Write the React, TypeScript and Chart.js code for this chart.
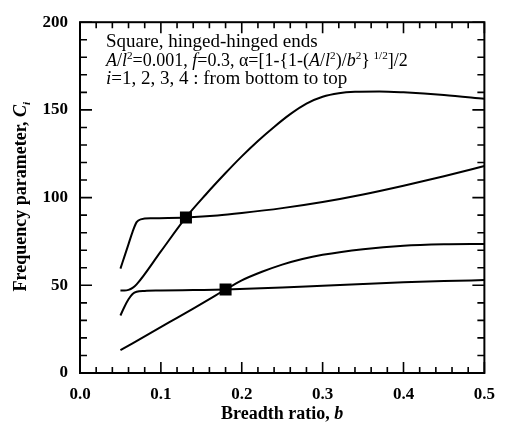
import React, { useEffect, useRef } from "react";
import { Chart, registerables } from "chart.js";

Chart.register(...registerables);

// ---- data ----
const curve1B = [0.05, 0.08, 0.11, 0.14, 0.16, 0.18, 0.2, 0.225, 0.25, 0.275, 0.3, 0.35, 0.4, 0.45, 0.5];
const curve1C = [13.0, 20.9, 28.8, 36.7, 42.1, 47.6, 52.8, 57.7, 61.8, 65.0, 67.4, 70.6, 72.6, 73.4, 73.6];

const curve2B = [0.05, 0.055, 0.06, 0.065, 0.07, 0.08, 0.1, 0.14, 0.18, 0.25, 0.3, 0.35, 0.4, 0.45, 0.5];
const curve2C = [32.8, 37.8, 42.0, 45.0, 46.3, 46.8, 47.0, 47.3, 47.6, 48.7, 49.8, 50.8, 51.7, 52.4, 53.0];

const curve3B = [0.05, 0.055, 0.06, 0.065, 0.07, 0.1, 0.131, 0.155, 0.18, 0.2, 0.22, 0.24, 0.26, 0.28, 0.3, 0.32, 0.34, 0.37, 0.4, 0.45, 0.5];
const curve3C = [47.0, 47.0, 47.4, 48.5, 50.5, 69.3, 88.7, 101.5, 114.0, 123.5, 132.3, 140.3, 147.6, 153.6, 157.5, 159.5, 160.3, 160.5, 160.0, 158.5, 156.3];

const curve4B = [0.05, 0.055, 0.06, 0.065, 0.07, 0.075, 0.09, 0.131, 0.17, 0.2, 0.25, 0.3, 0.35, 0.4, 0.45, 0.5];
const curve4C = [59.5, 66.5, 73.5, 80.5, 86.0, 87.6, 88.2, 88.7, 89.8, 91.2, 94.0, 97.5, 101.8, 106.8, 112.2, 118.0];

const crossingB = [0.131, 0.18];
const crossingC = [88.7, 47.6];

const xMin = 0, xMax = 0.5, xMajor = 0.1, xMinor = 0.02;
const yMin = 0, yMax = 200, yMajor = 50, yMinor = 10;

type Seg = { t: string; it?: boolean; sup?: boolean; sub?: boolean };

const noteLines: Seg[][] = [
  [{ t: "Square, hinged-hinged ends" }],
  [
    { t: "A", it: true }, { t: "/" }, { t: "l", it: true }, { t: "2", sup: true },
    { t: "=0.001, " }, { t: "f", it: true }, { t: "=0.3, α=[1-{1-(" },
    { t: "A", it: true }, { t: "/" }, { t: "l", it: true }, { t: "2", sup: true },
    { t: ")/" }, { t: "b", it: true }, { t: "2", sup: true }, { t: "}\u2009" },
    { t: "1/2", sup: true }, { t: "]/2" },
  ],
  [{ t: "i", it: true }, { t: "=1, 2, 3, 4 : from bottom to top" }],
];
const noteSizes = [19, 18, 19];

const xTitle: Seg[] = [{ t: "Breadth ratio, " }, { t: "b", it: true }];
const yTitle: Seg[] = [{ t: "Frequency parameter, " }, { t: "C", it: true }, { t: "i", it: true, sub: true }];

const FAMILY = '"Liberation Serif", "Times New Roman", serif';

function pts(xs: number[], ys: number[]) {
  return xs.map((x, i) => ({ x, y: ys[i] }));
}

function segFont(s: Seg, size: number, weight: string) {
  const fs = s.sup || s.sub ? size * 0.62 : size;
  return `${s.it ? "italic " : ""}${weight} ${fs}px ${FAMILY}`;
}

function richWidth(ctx: CanvasRenderingContext2D, segs: Seg[], size: number, weight: string) {
  let w = 0;
  for (const s of segs) {
    ctx.font = segFont(s, size, weight);
    w += ctx.measureText(s.t).width;
  }
  return w;
}

function drawRich(ctx: CanvasRenderingContext2D, segs: Seg[], x: number, y: number, size: number, weight: string) {
  let cx = x;
  for (const s of segs) {
    ctx.font = segFont(s, size, weight);
    const dy = s.sup ? -size * 0.4 : s.sub ? size * 0.22 : 0;
    ctx.fillText(s.t, cx, y + dy);
    cx += ctx.measureText(s.t).width;
  }
}

const framePlugin = {
  id: "frame",
  afterDraw(chart: any) {
    const { ctx, chartArea: a, scales } = chart;
    const xs = scales.x, ys = scales.y;
    ctx.save();
    ctx.strokeStyle = "#000";
    ctx.fillStyle = "#000";
    ctx.lineWidth = 2;
    ctx.strokeRect(a.left, a.top, a.right - a.left, a.bottom - a.top);

    ctx.lineWidth = 1.6;
    ctx.beginPath();
    const nx = Math.round((xMax - xMin) / xMinor);
    const perX = Math.round(xMajor / xMinor);
    for (let k = 0; k <= nx; k++) {
      const px = xs.getPixelForValue(xMin + k * xMinor);
      const len = k % perX === 0 ? 11 : 6;
      ctx.moveTo(px, a.bottom); ctx.lineTo(px, a.bottom - len);
      ctx.moveTo(px, a.top); ctx.lineTo(px, a.top + len);
    }
    const ny = Math.round((yMax - yMin) / yMinor);
    const perY = Math.round(yMajor / yMinor);
    for (let k = 0; k <= ny; k++) {
      const py = ys.getPixelForValue(yMin + k * yMinor);
      const len = k % perY === 0 ? 12 : 7;
      ctx.moveTo(a.left, py); ctx.lineTo(a.left + len, py);
      ctx.moveTo(a.right, py); ctx.lineTo(a.right - len, py);
    }
    ctx.stroke();

    ctx.textAlign = "left";
    ctx.textBaseline = "alphabetic";
    // annotation
    const noteX = a.left + 26;
    const noteY0 = a.top + 25;
    noteLines.forEach((line, i) => drawRich(ctx, line, noteX, noteY0 + i * 18.5, noteSizes[i], "normal"));

    // x title
    const xw = richWidth(ctx, xTitle, 18, "bold");
    drawRich(ctx, xTitle, (a.left + a.right) / 2 - xw / 2, a.bottom + 46, 18, "bold");

    // y title
    const yw = richWidth(ctx, yTitle, 18, "bold");
    ctx.save();
    ctx.translate(a.left - 54, (a.top + a.bottom) / 2 - 1);
    ctx.rotate(-Math.PI / 2);
    drawRich(ctx, yTitle, -yw / 2, 0, 18, "bold");
    ctx.restore();
    ctx.restore();
  },
};

export default function App() {
  const ref = useRef<HTMLCanvasElement | null>(null);
  useEffect(() => {
    document.body.style.margin = "0";
    const canvas = ref.current!;
    const line = (xs: number[], ys: number[]) => ({
      data: pts(xs, ys),
      showLine: true,
      borderColor: "#000",
      borderWidth: 2,
      pointRadius: 0,
      cubicInterpolationMode: "monotone" as const,
      fill: false,
    });
    const chart = new Chart(canvas, {
      type: "scatter",
      data: {
        datasets: [
          line(curve1B, curve1C),
          line(curve2B, curve2C),
          line(curve3B, curve3C),
          line(curve4B, curve4C),
          {
            data: pts(crossingB, crossingC),
            showLine: false,
            pointStyle: "rect",
            pointRadius: 8.5,
            backgroundColor: "#000",
            borderColor: "#000",
            borderWidth: 0,
          },
        ],
      },
      options: {
        responsive: false,
        devicePixelRatio: 1,
        animation: false,
        events: [],
        layout: { padding: { top: 13, right: 21, left: 0, bottom: 0 } },
        plugins: { legend: { display: false }, tooltip: { enabled: false } },
        scales: {
          x: {
            type: "linear",
            min: xMin,
            max: xMax,
            afterFit: (s: any) => { s.height = 53; },
            grid: { display: false, drawTicks: false },
            border: { display: false },
            ticks: {
              stepSize: xMajor,
              padding: 11,
              color: "#000",
              font: { family: FAMILY, size: 17, weight: "bold" },
              callback: (v: any) => Number(v).toFixed(1),
            },
          },
          y: {
            type: "linear",
            min: yMin,
            max: yMax,
            afterFit: (s: any) => { s.width = 80; },
            grid: { display: false, drawTicks: false },
            border: { display: false },
            ticks: {
              stepSize: yMajor,
              padding: 12,
              color: "#000",
              font: { family: FAMILY, size: 17, weight: "bold" },
            },
          },
        },
      },
      plugins: [framePlugin],
    });
    return () => chart.destroy();
  }, []);
  return (
    <div style={{ width: 506, height: 426 }}>
      <canvas ref={ref} width={506} height={426} />
    </div>
  );
}
